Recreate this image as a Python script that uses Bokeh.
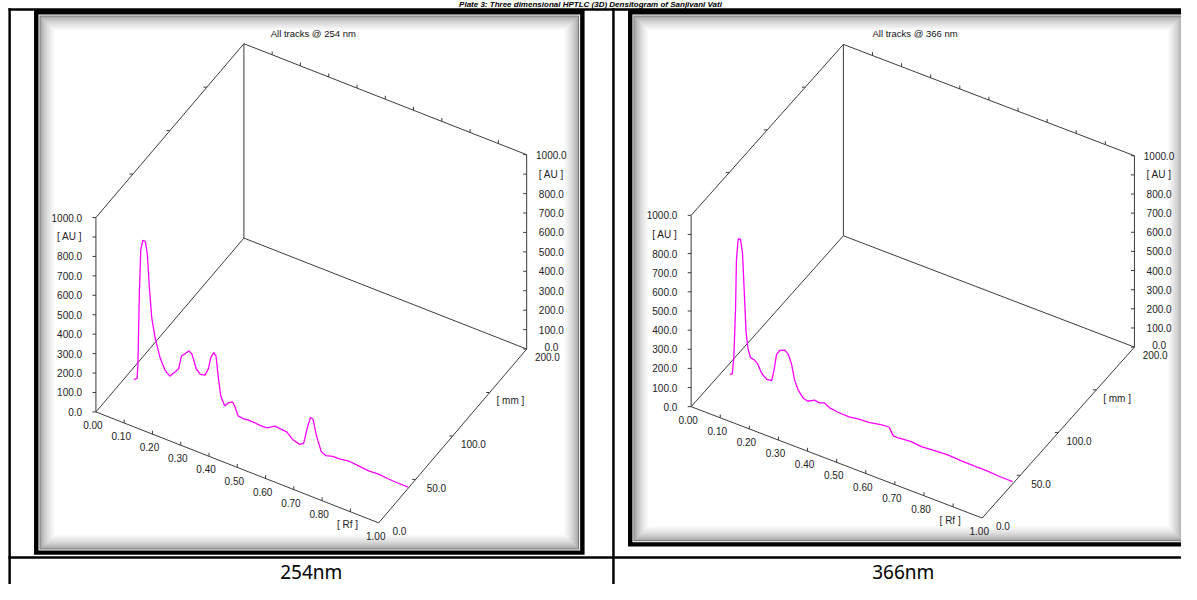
from bokeh.plotting import figure
from bokeh.models import Range1d
from bokeh.embed import file_html
from bokeh.resources import INLINE
from bokeh.core.properties import value

# ---------------- data ----------------
page_title = "Plate 3: Three dimensional HPTLC (3D) Densitogram of Sanjivani Vati"
panel_titles = ["All tracks @ 254 nm", "All tracks @ 366 nm"]
cell_labels = ["254nm", "366nm"]

rf_ticks = [0.0, 0.1, 0.2, 0.3, 0.4, 0.5, 0.6, 0.7, 0.8, 0.9, 1.0]
rf_labels = ["0.00", "0.10", "0.20", "0.30", "0.40", "0.50", "0.60", "0.70", "0.80", "[ Rf ]", "1.00"]
mm_ticks = [0, 50, 100, 150, 200]
mm_labels = ["0.0", "50.0", "100.0", "[ mm ]", "200.0"]
au_ticks = [0, 100, 200, 300, 400, 500, 600, 700, 800, 900, 1000]
au_labels = ["0.0", "100.0", "200.0", "300.0", "400.0", "500.0", "600.0", "700.0", "800.0", "[ AU ]", "1000.0"]

track_mm = 40.0

rf_254 = [0.030, 0.041, 0.044, 0.049, 0.054, 0.061, 0.070, 0.077, 0.084, 0.093, 0.105, 0.122,
          0.140, 0.157, 0.175, 0.188, 0.198, 0.209, 0.224, 0.235, 0.250, 0.265, 0.281, 0.293,
          0.302, 0.312, 0.320, 0.328, 0.337, 0.351, 0.366, 0.378, 0.386, 0.398, 0.419, 0.430,
          0.454, 0.477, 0.500, 0.529, 0.546, 0.570, 0.593, 0.616, 0.630, 0.642, 0.654, 0.663,
          0.675, 0.692, 0.709, 0.733, 0.756, 0.791, 0.826, 0.860, 0.895, 0.930, 0.965, 1.000]
au_254 = [5, 17, 94, 464, 684, 738, 739, 680, 517, 355, 261, 171,
          115, 95, 126, 151, 223, 238, 263, 253, 186, 166, 171, 211,
          274, 304, 292, 189, 94, 52, 78, 89, 72, 28, 24, 27,
          27, 23, 24, 50, 47, 44, 15, 6, 19, 101, 166, 163,
          86, 13, 1, 11, 11, 19, 14, 9, 12, 7, 5, 5]

rf_366 = [0.029, 0.037, 0.042, 0.048, 0.051, 0.057, 0.065, 0.072, 0.078, 0.084, 0.090, 0.099,
          0.112, 0.124, 0.138, 0.155, 0.172, 0.180, 0.189, 0.201, 0.217, 0.229, 0.240, 0.251,
          0.263, 0.280, 0.296, 0.319, 0.336, 0.353, 0.370, 0.398, 0.438, 0.472, 0.506, 0.551,
          0.576, 0.590, 0.607, 0.652, 0.686, 0.732, 0.777, 0.822, 0.867, 0.912, 0.957, 1.000]
au_366 = [6, 16, 103, 361, 617, 731, 735, 663, 464, 263, 182, 136,
          131, 117, 75, 54, 57, 116, 206, 233, 243, 229, 185, 106,
          62, 30, 22, 41, 37, 47, 32, 25, 23, 31, 34, 47,
          49, 12, 12, 18, 12, 18, 22, 18, 16, 17, 12, 12]

curves = [(rf_254, au_254), (rf_366, au_366)]

# ---------------- layout (reference pixel space 1197 x 600) ----------------
W, H = 1181, 584
panels = [
    dict(O=(96.7, 422.7), ex=(286.6, 114.0), ey=(150.0, -178.6), h=199.7, title=(317, 34), cell_x=315),
    dict(O=(700.0, 417.3), ex=(295.0, 114.4), ey=(154.3, -175.6), h=196.6, title=(927, 34), cell_x=915),
]
frames = [(34, 9, 592, 569.5), (636, 9, 1204, 561)]

AXFONT = value("Liberation Sans Narrow, Arial Narrow, Liberation Sans")
LBLFONT = value("Noto Sans")

p = figure(width=W, height=H, x_range=Range1d(0, 1197), y_range=Range1d(600, 0),
           output_backend="svg", toolbar_location=None, x_axis_type=None, y_axis_type=None,
           min_border=0, title=None)
p.grid.visible = False
p.outline_line_color = None
p.background_fill_color = "white"
p.border_fill_color = "white"


def quad(l, t, r, b, color):
    p.quad(left=[l], right=[r], top=[t], bottom=[b], fill_color=color, line_color=None)


# frames with inner shadow
for (l, t, r, b) in frames:
    quad(l, t, r, b, "black")
    quad(l + 4.5, t + 5.5, r - 4.5, b - 4.5, "white")
    quad(l + 5.5, t + 6.5, r - 5.5, b - 5.5, "#7a7a7a")
    n = 15
    for i in range(n):
        f = (i + 1) / n
        v = int(150 + (255 - 150) * f ** 0.6)
        c = "#%02x%02x%02x" % (v, v, v)
        d = 6.5 + i
        quad(l + d, t + d + 1, r - d, b - d, c)

# table lines
quad(8, 8, 1197, 10.5, "black")          # top
quad(8, 8, 10.5, 600, "black")           # left
quad(620, 8, 622.5, 600, "black")        # column divider
quad(8, 571, 1197, 573.5, "black")       # row divider

# page title (squeezed into the strip above the table)
p.text(x=[598], y=[4], text=[page_title], text_align="center", text_baseline="middle",
       text_font=value("Liberation Sans"), text_font_style="bold italic", text_font_size="8px",
       text_color="black")


def P(pan, rf, mm, au):
    ox, oy = pan["O"]
    return (ox + rf * pan["ex"][0] + mm / 200.0 * pan["ey"][0],
            oy + rf * pan["ex"][1] + mm / 200.0 * pan["ey"][1] - au / 1000.0 * pan["h"])


edges = [((0, 0, 0), (1, 0, 0)), ((1, 0, 0), (1, 200, 0)), ((0, 0, 0), (0, 0, 1000)),
         ((1, 200, 0), (1, 200, 1000)), ((0, 0, 0), (0, 200, 0)), ((0, 200, 0), (1, 200, 0)),
         ((0, 200, 0), (0, 200, 1000)), ((0, 0, 1000), (0, 200, 1000)),
         ((0, 200, 1000), (1, 200, 1000))]

for k, pan in enumerate(panels):
    xs, ys = [], []
    for a, b in edges:
        x0, y0 = P(pan, *a)
        x1, y1 = P(pan, *b)
        xs.append([x0, x1]); ys.append([y0, y1])
    # ticks
    for au in au_ticks:
        for (rf, mm) in [(0, 0), (1, 200)]:
            x, y = P(pan, rf, mm, au)
            xs.append([x - 3.5, x]); ys.append([y, y])
    for rf in rf_ticks[1:-1]:
        x, y = P(pan, rf, 0, 0)
        xs.append([x, x]); ys.append([y, y - 3.5])
        x, y = P(pan, rf, 200, 1000)
        xs.append([x, x]); ys.append([y, y - 3.5])
    for mm in mm_ticks[1:-1]:
        x, y = P(pan, 1, mm, 0)
        xs.append([x - 3.5, x]); ys.append([y, y])
        x, y = P(pan, 0, mm, 1000)
        xs.append([x - 3.5, x]); ys.append([y, y])
    p.multi_line(xs=xs, ys=ys, line_color="#3c3c3c", line_width=1)

    # tick labels
    tx, ty, tt = [], [], []
    for rf, lab in zip(rf_ticks, rf_labels):
        x, y = P(pan, rf, 0, 0)
        tx.append(x - 3); ty.append(y + 13.5); tt.append(lab)
    for mm, lab in zip(mm_ticks, mm_labels):
        x, y = P(pan, 1, mm, 0)
        tx.append(x + 21); ty.append(y + 8.5); tt.append(lab)
    for au, lab in zip(au_ticks, au_labels):
        x, y = P(pan, 1, 200, au)
        tx.append(x + 25); ty.append(y - (2.5 if au == 0 else 0)); tt.append(lab)
    p.text(x=tx, y=ty, text=tt, text_align="center", text_baseline="middle",
           text_font=AXFONT, text_font_size="10px", text_color="#222222")
    lx, ly, lt = [], [], []
    for au, lab in zip(au_ticks, au_labels):
        x, y = P(pan, 0, 0, au)
        lx.append(x - 14); ly.append(y); lt.append(lab)
    p.text(x=lx, y=ly, text=lt, text_align="right", text_baseline="middle",
           text_font=AXFONT, text_font_size="10px", text_color="#222222")

    # panel title
    p.text(x=[pan["title"][0]], y=[pan["title"][1]], text=[panel_titles[k]], text_align="center",
           text_baseline="middle", text_font=AXFONT, text_font_size="9.5px", text_color="#111111")

    # densitogram track
    rfs, aus = curves[k]
    cx, cy = [], []
    for rf, au in zip(rfs, aus):
        x, y = P(pan, rf, track_mm, au)
        cx.append(x); cy.append(y)
    p.line(cx, cy, line_color="#ff00ff", line_width=1.3)

    # table cell label
    p.text(x=[pan["cell_x"]], y=[587], text=[cell_labels[k]], text_align="center",
           text_baseline="middle", text_font=LBLFONT, text_font_size="19px", text_color="black")

open("out.html", "w").write(file_html(p, INLINE))
